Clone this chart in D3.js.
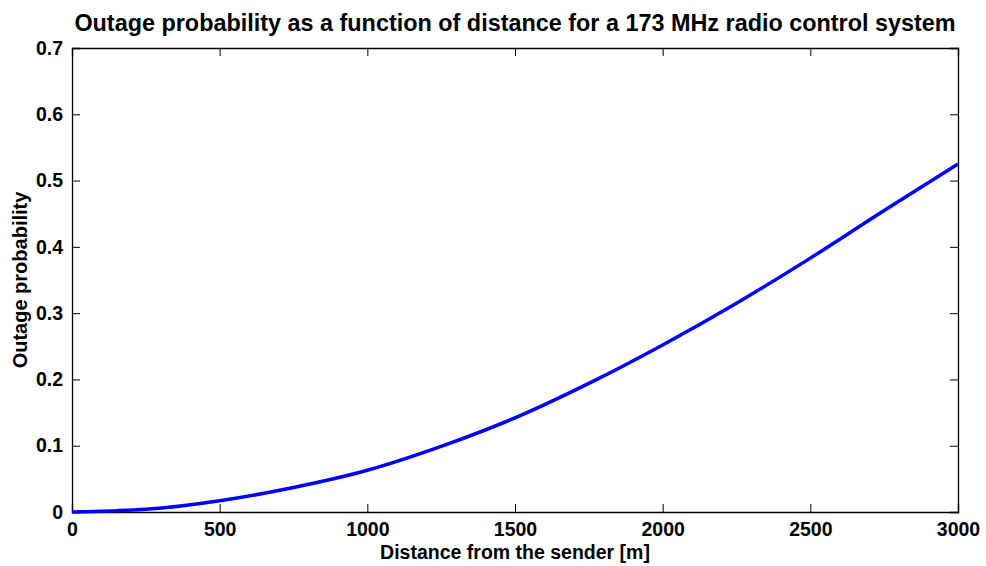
<!DOCTYPE html>
<html>
<head>
<meta charset="utf-8">
<script src="https://cdn.jsdelivr.net/npm/d3@7"></script>
<style>
  body { margin: 0; background: #fff; }
  svg text { font-family: "Liberation Sans", Arial, Helvetica, sans-serif; font-weight: bold; fill: #000; }
</style>
</head>
<body>
<div id="chart"></div>
<script>
/* CONSTANTS */
const width = 986,
  height = 566,
  margin = { top: 48, right: 28, bottom: 54, left: 72 };

/* DATA */
// distance from the sender [m]
const distance = [0, 250, 500, 750, 1000, 1250, 1500, 1750, 2000, 2250, 2500, 2750, 3000];
// outage probability at each distance
const outage = [0, 0.004, 0.017, 0.037, 0.063, 0.099, 0.142, 0.194, 0.252, 0.315, 0.383, 0.455, 0.525];

const xTicks = [0, 500, 1000, 1500, 2000, 2500, 3000];
const yTicks = [0, 0.1, 0.2, 0.3, 0.4, 0.5, 0.6, 0.7];

const titleText = "Outage probability as a function of distance for a 173 MHz radio control system";
const xLabel = "Distance from the sender [m]";
const yLabel = "Outage probability";

const points = distance.map((d, i) => [d, outage[i]]);

const svg = d3.select("#chart")
  .append("svg")
  .attr("width", width)
  .attr("height", height);

const xScale = d3.scaleLinear()
  .domain([0, 3000])
  .range([margin.left, width - margin.right]);

const yScale = d3.scaleLinear()
  .domain([0, 0.7])
  .range([height - margin.bottom, margin.top]);

const tickLen = 8;
const fmtY = d => d === 0 ? "0" : d3.format(".1f")(d);

// bottom axis, ticks point inward
svg.append("g")
  .attr("class", "x-axis")
  .attr("transform", `translate(0, ${yScale(0)})`)
  .call(d3.axisBottom(xScale).tickValues(xTicks).tickSize(-tickLen).tickPadding(10).tickFormat(d3.format("d")));

// top mirror
svg.append("g")
  .attr("transform", `translate(0, ${yScale(0.7)})`)
  .call(d3.axisTop(xScale).tickValues(xTicks).tickSize(-tickLen).tickFormat(""));

// left axis
svg.append("g")
  .attr("class", "y-axis")
  .attr("transform", `translate(${xScale(0)}, 0)`)
  .call(d3.axisLeft(yScale).tickValues(yTicks).tickSize(-tickLen).tickPadding(9).tickFormat(fmtY));

// right mirror
svg.append("g")
  .attr("transform", `translate(${xScale(3000)}, 0)`)
  .call(d3.axisRight(yScale).tickValues(yTicks).tickSize(-tickLen).tickFormat(""));

svg.selectAll(".domain").attr("stroke", "#000").attr("stroke-width", 1.3);
svg.selectAll(".tick line").attr("stroke", "#000").attr("stroke-width", 1);
svg.selectAll(".tick text").style("font-size", "19.5px");

// the curve
const lineFunc = d3.line()
  .x(d => xScale(d[0]))
  .y(d => yScale(d[1]))
  .curve(d3.curveMonotoneX);

svg.append("path")
  .datum(points)
  .attr("fill", "none")
  .attr("stroke", "#0000ff")
  .attr("stroke-width", 3.5)
  .attr("d", lineFunc);

// title and labels
svg.append("text")
  .attr("x", (xScale(0) + xScale(3000)) / 2)
  .attr("y", 31)
  .attr("text-anchor", "middle")
  .style("font-size", "23.4px")
  .text(titleText);

svg.append("text")
  .attr("x", (xScale(0) + xScale(3000)) / 2)
  .attr("y", 559)
  .attr("text-anchor", "middle")
  .style("font-size", "19.5px")
  .text(xLabel);

svg.append("text")
  .attr("transform", `translate(27, ${(yScale(0) + yScale(0.7)) / 2}) rotate(-90)`)
  .attr("text-anchor", "middle")
  .style("font-size", "20px")
  .text(yLabel);
</script>
</body>
</html>
